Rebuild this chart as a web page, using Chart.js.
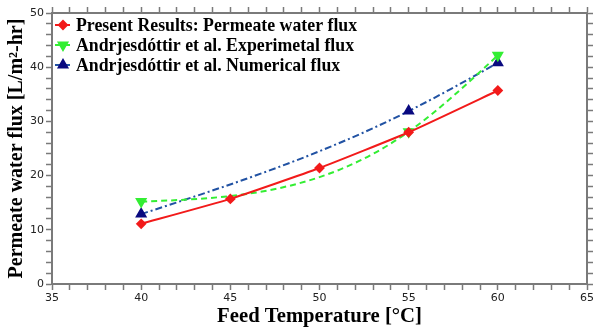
<!DOCTYPE html>
<html>
<head>
<meta charset="utf-8">
<script src="https://cdn.jsdelivr.net/npm/chart.js@4"></script>
<style>
  html, body { margin: 0; padding: 0; background: #fff; }
</style>
</head>
<body>
<canvas id="fluxChart" width="596" height="329"></canvas>
<script>
// values
const temps = [40, 45, 50, 55, 60];
const presentFlux = [11.1, 15.7, 21.4, 28.0, 35.7];
const refTemps = [40, 55, 60];
const expFlux = [15.2, 28.1, 42.2];
const numFlux = [12.9, 31.9, 40.8];
const seriesNames = [
    "Present Results: Permeate water flux",
    "Andrjesdóttir et al. Experimetal flux",
    "Andrjesdóttir et al. Numerical flux"
];
const xTickLabels = [35, 40, 45, 50, 55, 60, 65];
const yTickLabels = [0, 10, 20, 30, 40, 50];

const axisColor = "#7a7a7a";
const tickFont = { family: "DejaVu Sans", size: 11 };
const titleFont = { family: "Liberation Serif", weight: "bold" };

function toPoints(xs, ys) {
    return xs.map((x, i) => ({ x: x, y: ys[i] }));
}

function frameScale(pos, min, max, step, labels, showLabels) {
    return {
        type: "linear",
        position: pos,
        min: min,
        max: max,
        border: { display: true, color: axisColor, width: 2 },
        grid: { drawOnChartArea: false, drawTicks: true, tickLength: 6, tickColor: axisColor, tickWidth: 1.5 },
        ticks: {
            display: showLabels,
            stepSize: step,
            autoSkip: false,
            maxRotation: 0,
            minRotation: 0,
            padding: 2,
            color: "#222",
            font: tickFont,
            callback: v => labels.includes(v) ? v : ""
        }
    };
}

// slopes of a natural cubic spline through the points (pixel space)
function splineSlopes(pts) {
    const n = pts.length;
    const h = [], d = [];
    for (let i = 0; i < n - 1; i++) {
        h.push(pts[i + 1].x - pts[i].x);
        d.push((pts[i + 1].y - pts[i].y) / h[i]);
    }
    // second derivatives, M[0] = M[n-1] = 0, Thomas algorithm
    const M = new Array(n).fill(0);
    const diag = [], rhs = [];
    for (let i = 1; i < n - 1; i++) {
        diag[i] = 2 * (h[i - 1] + h[i]);
        rhs[i] = 6 * (d[i] - d[i - 1]);
        if (i > 1) {
            const w = h[i - 1] / diag[i - 1];
            diag[i] -= w * h[i - 1];
            rhs[i] -= w * rhs[i - 1];
        }
    }
    for (let i = n - 2; i >= 1; i--)
        M[i] = (rhs[i] - h[i] * M[i + 1]) / diag[i];
    const s = [];
    for (let i = 0; i < n - 1; i++)
        s.push(d[i] - h[i] * (2 * M[i] + M[i + 1]) / 6);
    s.push(d[n - 2] + h[n - 2] * (M[n - 2] + 2 * M[n - 1]) / 6);
    return s;
}

// the reference series were smoothed with a natural spline in the original,
// so set the bezier handles of the line to follow it
const splineLine = {
    id: "splineLine",
    beforeDatasetDraw(chart, args) {
        const ds = chart.data.datasets[args.index];
        const pts = args.meta.data;
        if (!ds.naturalSpline || pts.length < 3) return;
        const line = args.meta.dataset;
        line.updateControlPoints(chart.chartArea, "x");
        const s = splineSlopes(pts);
        for (let i = 0; i < pts.length - 1; i++) {
            const p = pts[i], q = pts[i + 1];
            const h = (q.x - p.x) / 3;
            p.cp2x = p.x + h;
            p.cp2y = p.y + s[i] * h;
            q.cp1x = q.x - h;
            q.cp1y = q.y - s[i + 1] * h;
        }
        line._path = undefined;
    }
};

// legend drawn inside the plot, line + marker like the original
const innerLegend = {
    id: "innerLegend",
    afterDatasetsDraw(chart) {
        const ctx = chart.ctx;
        const area = chart.chartArea;
        ctx.save();
        chart.data.datasets.forEach((ds, i) => {
            const y = area.top + 12 + i * 20;
            const x = area.left + 3;
            ctx.setLineDash([]);
            ctx.strokeStyle = ds.borderColor;
            ctx.lineWidth = 2;
            ctx.beginPath();
            ctx.moveTo(x, y);
            ctx.lineTo(x + 15, y);
            ctx.stroke();
            ctx.fillStyle = ds.pointBackgroundColor;
            ctx.strokeStyle = ds.pointBackgroundColor;
            Chart.helpers.drawPoint(ctx, {
                pointStyle: ds.pointStyle,
                rotation: ds.pointRotation || 0,
                radius: ds.pointRadius,
                borderWidth: 1
            }, x + 8, y);
            ctx.fillStyle = "#000";
            ctx.font = "bold 17.8px 'Liberation Serif'";
            ctx.textBaseline = "middle";
            ctx.fillText(ds.label, x + 21, y + 1);
        });
        ctx.restore();
    }
};

const xMain = frameScale("bottom", 35, 65, 1, xTickLabels, true);
xMain.title = { display: true, text: "Feed Temperature [°C]", color: "#000", font: { ...titleFont, size: 20.7 }, padding: { top: 0, bottom: 0 } };
xMain.afterFit = s => { s.height = 45; };

const yMain = frameScale("left", 0, 50, 2, yTickLabels, true);
yMain.title = { display: true, text: "Permeate water flux [L/m²-hr]", color: "#000", font: { ...titleFont, size: 20 }, padding: { top: 5, bottom: 0 } };
yMain.afterFit = s => { s.width = 52; };

const xTop = frameScale("top", 35, 65, 1, [], false);
xTop.afterFit = s => { s.height = 13; };
const yRight = frameScale("right", 0, 50, 2, [], false);
yRight.afterFit = s => { s.width = 8; };

new Chart(document.getElementById("fluxChart"), {
    type: "scatter",
    data: {
        datasets: [{
                label: seriesNames[0],
                data: toPoints(temps, presentFlux),
                showLine: true,
                borderColor: "#f21a1a",
                borderWidth: 2,
                tension: 0.15,
                pointStyle: "rectRot",
                pointRadius: 4,
                pointBackgroundColor: "#f21a1a",
                pointBorderColor: "#f21a1a"
            }, {
                label: seriesNames[1],
                data: toPoints(refTemps, expFlux),
                showLine: true,
                naturalSpline: true,
                borderColor: "#33ee33",
                borderWidth: 2,
                borderDash: [6, 4],
                tension: 0.4,
                pointStyle: "triangle",
                pointRotation: 180,
                pointRadius: 5,
                pointBackgroundColor: "#33ee33",
                pointBorderColor: "#33ee33"
            }, {
                label: seriesNames[2],
                data: toPoints(refTemps, numFlux),
                showLine: true,
                naturalSpline: true,
                borderColor: "#2152a3",
                borderWidth: 2,
                borderDash: [7, 3, 2, 3],
                tension: 0.4,
                pointStyle: "triangle",
                pointRadius: 5,
                pointBackgroundColor: "#0a0a80",
                pointBorderColor: "#0a0a80"
            }]
    },
    options: {
        responsive: false,
        animation: false,
        layout: { padding: 0 },
        plugins: {
            legend: { display: false },
            tooltip: { enabled: false }
        },
        scales: {
            x: xMain,
            y: yMain,
            x2: xTop,
            y2: yRight
        }
    },
    plugins: [splineLine, innerLegend]
});
</script>
</body>
</html>
